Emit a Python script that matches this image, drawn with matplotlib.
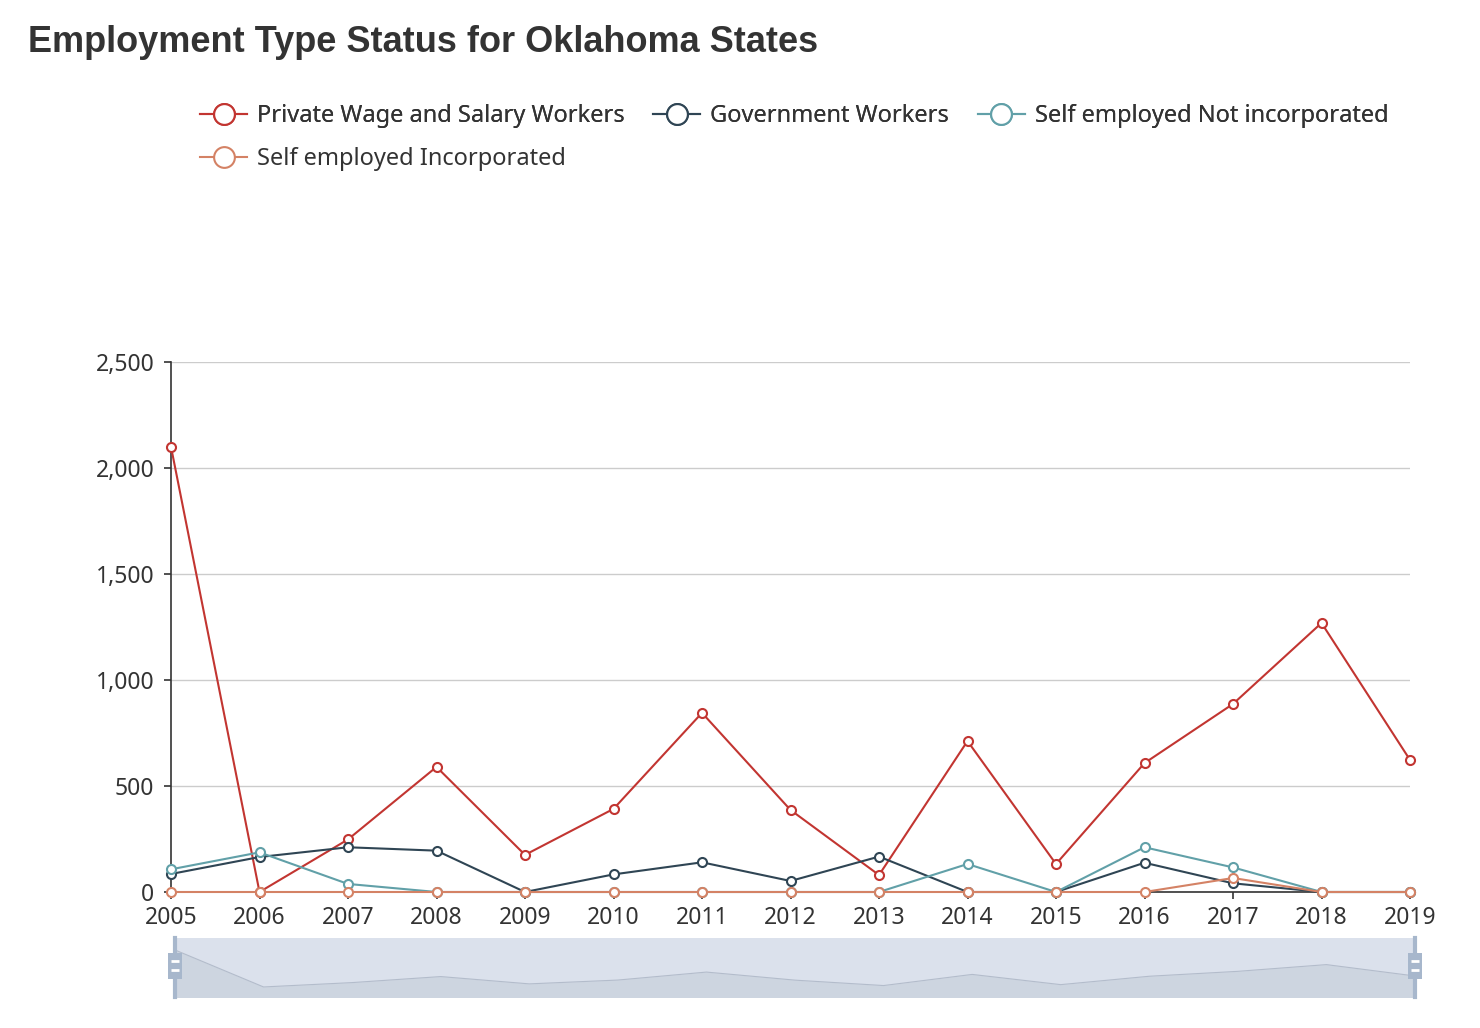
import numpy as np
import matplotlib
matplotlib.use("Agg")
import matplotlib.pyplot as plt
from matplotlib.patches import FancyBboxPatch
import matplotlib.ticker as mtick

plt.rcParams['font.family'] = ['Noto Sans', 'DejaVu Sans']

years = [2005, 2006, 2007, 2008, 2009, 2010, 2011, 2012, 2013, 2014, 2015, 2016, 2017, 2018, 2019]
private_wage = [2100, 0, 248, 590, 175, 392, 845, 387, 80, 712, 132, 608, 887, 1269, 623]
government = [85, 165, 211, 195, 0, 83, 140, 52, 167, 0, 0, 138, 41, 0, 0]
self_not_inc = [107, 187, 38, 0, 0, 0, 0, 0, 0, 132, 0, 211, 116, 0, 0]
self_inc = [0, 0, 0, 0, 0, 0, 0, 0, 0, 0, 0, 0, 66, 0, 0]

series_names = ["Private Wage and Salary Workers", "Government Workers",
                "Self employed Not incorporated", "Self employed Incorporated"]
series_vals = [private_wage, government, self_not_inc, self_inc]
series_colors = ["#c23531", "#2f4554", "#61a0a8", "#d48265"]

W, H = 1480, 1028
fig = plt.figure(figsize=(W / 100, H / 100), dpi=100)

# main plot area
ax = fig.add_axes([171 / W, 1 - 892 / H, (1410 - 171) / W, (892 - 362) / H])
x = np.arange(len(years))
handles = []
for name, vals, c in zip(series_names, series_vals, series_colors):
    h, = ax.plot(x, vals, color=c, lw=1.5, marker='o', ms=6.5, mfc='white',
                 mec=c, mew=1.5, label=name, clip_on=False, zorder=3)
    handles.append(h)

ax.set_xlim(0, len(years) - 1)
ax.set_ylim(0, 2500)
ax.set_xticks(x)
ax.set_xticklabels([str(y) for y in years])
ax.set_yticks(np.arange(0, 2501, 500))
ax.yaxis.set_major_formatter(mtick.StrMethodFormatter('{x:,.0f}'))
ax.grid(axis='y', color='#cccccc', lw=1)
ax.set_axisbelow(True)
for s in ['top', 'right']:
    ax.spines[s].set_visible(False)
for s in ['left', 'bottom']:
    ax.spines[s].set_color('#333333')
    ax.spines[s].set_linewidth(1.2)
    ax.spines[s].set_zorder(2)
ax.tick_params(axis='both', colors='#333333', labelsize=16.5, length=5, width=1.2)
ax.tick_params(axis='x', pad=5)
ax.tick_params(axis='y', pad=7)

# title
fig.text(28 / W, 1 - 42 / H, "Employment Type Status for Oklahoma States",
         fontsize=26, fontweight='bold', color='#333333', va='center', ha='left',
         family=['Liberation Sans', 'DejaVu Sans'])

# legend (two rows like the original)
leg_kw = dict(frameon=False, fontsize=17, handlelength=2.0, handletextpad=0.42,
              markerscale=2.3, labelcolor='#333333', borderaxespad=0, borderpad=0)
leg1 = fig.legend(handles[:3], series_names[:3], loc='center left',
                  bbox_to_anchor=(200 / W, 1 - 116 / H), ncol=3,
                  columnspacing=1.2, **leg_kw)
fig.add_artist(leg1)
fig.legend(handles[3:], series_names[3:], loc='center left',
           bbox_to_anchor=(200 / W, 1 - 159 / H), ncol=1, **leg_kw)

# data zoom slider
axz = fig.add_axes([175 / W, 1 - 997 / H, (1415 - 175) / W, (997 - 938) / H])
axz.set_facecolor('#dbe1ec')
axz.fill_between(x, private_wage, -1000, color='#cdd5e0', lw=0)
axz.plot(x, private_wage, color='#b3bccb', lw=0.8)
axz.set_xlim(0, len(years) - 1)
axz.set_ylim(-570, 2780)
axz.set_xticks([])
axz.set_yticks([])
for s in axz.spines.values():
    s.set_visible(False)
for xe in [0, len(years) - 1]:
    axz.axvline(xe, color='#a7b7cc', lw=3, clip_on=False)
    axz.add_patch(FancyBboxPatch((xe - 0.08, 450), 0.16, 1480,
                                 boxstyle='square,pad=0', fc='#a7b7cc', ec='none',
                                 clip_on=False, zorder=4))
    for yy in (960, 1470):
        axz.plot([xe - 0.045, xe + 0.045], [yy, yy], color='white', lw=2,
                 clip_on=False, zorder=5, solid_capstyle='butt')

fig.savefig("out.png", dpi=100, facecolor='white')
